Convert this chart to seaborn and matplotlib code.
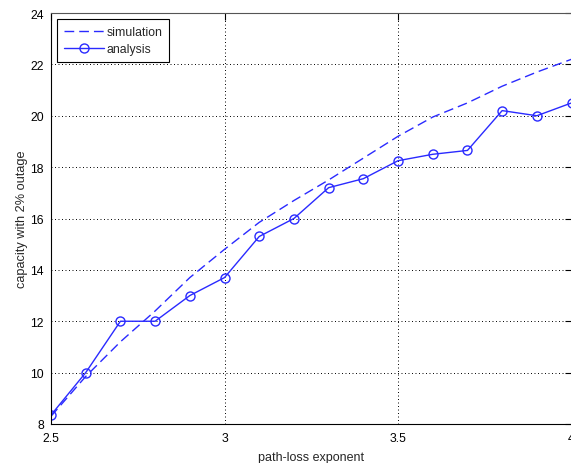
import matplotlib
matplotlib.use("Agg")
import matplotlib.pyplot as plt
import seaborn as sns
import pandas as pd

# data
path_loss = [2.5, 2.6, 2.7, 2.8, 2.9, 3.0, 3.1, 3.2, 3.3, 3.4, 3.5, 3.6, 3.7, 3.8, 3.9, 4.0]
simulation = [8.3, 9.85, 11.2, 12.4, 13.7, 14.8, 15.85, 16.7, 17.5, 18.35, 19.2, 19.95, 20.5, 21.15, 21.7, 22.2]
analysis = [8.35, 10.0, 12.0, 12.0, 13.0, 13.7, 15.3, 16.0, 17.2, 17.55, 18.25, 18.5, 18.65, 20.2, 20.0, 20.5]
x_ticks = [2.5, 3.0, 3.5, 4.0]
x_ticklabels = ["2.5", "3", "3.5", "4"]
y_ticks = [8, 10, 12, 14, 16, 18, 20, 22, 24]

sns.set_style("white")
plt.rcParams["font.family"] = ["Liberation Sans", "DejaVu Sans"]

df_sim = pd.DataFrame({"x": path_loss, "y": simulation})
df_ana = pd.DataFrame({"x": path_loss, "y": analysis})

fig = plt.figure(figsize=(5.71, 4.64), dpi=100)
ax = fig.add_axes([51 / 571, 1 - 425 / 464, 1.0 - 51 / 571 + 0.001, (425 - 14) / 464])

blue = "#2a2aff"
sns.lineplot(data=df_sim, x="x", y="y", ax=ax, color=blue, linewidth=1.0,
             linestyle=(0, (7, 3.6)), label="simulation")
sns.lineplot(data=df_ana, x="x", y="y", ax=ax, color=blue, linewidth=1.0,
             marker="o", markersize=6.5, markerfacecolor="none",
             markeredgecolor=blue, markeredgewidth=1.0, label="analysis")

ax.set_xlim(2.5, 4.0)
ax.set_ylim(8, 24)
ax.set_xticks(x_ticks)
ax.set_xticklabels(x_ticklabels)
ax.set_yticks(y_ticks)
ax.tick_params(direction="in", length=5, width=0.8, top=True, right=True,
               labelsize=8.8, colors="black")
ax.tick_params(axis="y", pad=5)
ax.tick_params(axis="x", pad=6)
ax.grid(True, color="black", linestyle=(0, (1, 2.6)), linewidth=0.7)

for side in ["left", "bottom", "right", "top"]:
    ax.spines[side].set_color("black")
    ax.spines[side].set_linewidth(0.8)
ax.spines["top"].set_color("#555555")

ax.set_xlabel("path-loss exponent", fontsize=9, labelpad=5)
ax.set_ylabel("capacity with 2% outage", fontsize=9.2, labelpad=2)

leg = ax.legend(loc="upper left", fontsize=8.8, frameon=True, fancybox=False,
                edgecolor="black", framealpha=1, handlelength=3.3,
                borderaxespad=0.5, borderpad=0.55, labelspacing=0.45,
                handletextpad=0.2)
leg.get_frame().set_linewidth(0.8)

fig.savefig("out.png", dpi=100)
